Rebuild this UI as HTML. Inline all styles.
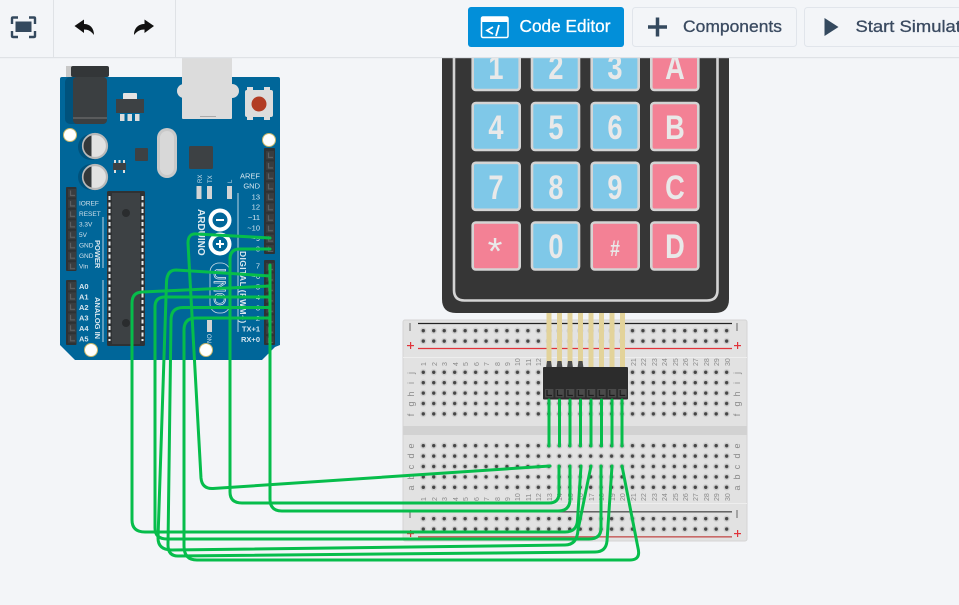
<!DOCTYPE html>
<html><head><meta charset="utf-8"><style>
html,body{margin:0;padding:0;background:#f3f5f8;width:959px;height:605px;overflow:hidden}
svg{display:block;font-family:"Liberation Sans",sans-serif}
.w{fill:none;stroke:#06bd4b;stroke-width:3;stroke-linecap:round;stroke-linejoin:round}
.k{stroke:#d4d4d4;stroke-width:2.6}
.kt{font-size:34px;font-weight:bold;fill:#e9e9e9;text-anchor:middle}
.bn{font-size:7px;fill:#8a8a8a}
.bl{font-size:9px;fill:#8a8a8a}
.ar{font-size:7.5px;fill:#d6e6ef;text-anchor:end}
.al{font-size:6.5px;fill:#cfe0ea}
.aa{font-size:7.5px;fill:#d6e6ef;font-weight:bold}
.ab{fill:#dbe8ef;font-weight:bold}
.tb{font-size:17px;fill:#3a4a60;stroke:#3a4a60;stroke-width:.3}
</style></head><body>
<svg width="959" height="605" viewBox="0 0 959 605" xmlns="http://www.w3.org/2000/svg">
<defs>
<pattern id="h" patternUnits="userSpaceOnUse" width="10.46" height="10.4">
<circle cx="5.23" cy="5.2" r="3.2" fill="#cfcfcf"/><circle cx="5.23" cy="5.2" r="1.7" fill="#454545"/>
</pattern>
<pattern id="p" patternUnits="userSpaceOnUse" width="10.46" height="10.46">
<rect x="1" y="1" width="8.4" height="8.4" fill="#3a3d3f"/><path d="M3.5 2.500V7.500H8" stroke="#5c5f61" stroke-width="1.200" fill="none"/>
</pattern>
<pattern id="ph" patternUnits="userSpaceOnUse" width="10.46" height="10.46">
<rect x="1" y="1" width="8.4" height="8.4" fill="#4a4a4a"/><path d="M3 2V7.500H8" stroke="#1c1c1c" stroke-width="1.200" fill="none"/>
</pattern>
</defs>
<rect width="959" height="605" fill="#f3f5f8"/>

<!-- Arduino -->
<path d="M62 77H278Q280 77 280 79V345L275 347 262 360H75L61 346 60 345V79Q60 77 62 77Z" fill="#006699"/>
<rect x="65" y="77" width="42" height="47" rx="5" fill="#00527c"/>
<rect x="66" y="66" width="6" height="11" fill="#c8c8c8"/>
<rect x="71" y="66" width="38" height="11" rx="2" fill="#333638"/>
<rect x="73" y="77" width="34" height="47" rx="4" fill="#3b3f41"/>
<rect x="73" y="117.500" width="34" height="1" fill="#777"/>
<rect x="123" y="93" width="14" height="7" rx="1" fill="#e4e4e4"/>
<rect x="116" y="99" width="28" height="14" fill="#3d4144"/>
<rect x="120" y="114" width="4.500" height="7" fill="#ddd"/><rect x="127.500" y="114" width="4.500" height="7" fill="#ddd"/><rect x="135" y="114" width="4.500" height="7" fill="#ddd"/>
<circle cx="184" cy="91" r="7" fill="#dcdcdc"/><circle cx="232" cy="91" r="7" fill="#dcdcdc"/>
<rect x="182" y="50" width="50" height="69" rx="1" fill="#dcdcdc"/>
<rect x="200" y="116" width="16" height="1" fill="#aaa"/>
<rect x="247" y="87" width="6" height="5" fill="#ddd"/><rect x="264" y="87" width="6" height="5" fill="#ddd"/><rect x="247" y="116" width="6" height="4" fill="#ddd"/><rect x="264" y="116" width="6" height="4" fill="#ddd"/>
<rect x="245" y="90" width="28" height="27" rx="2" fill="#dcdcdc"/>
<circle cx="259" cy="104" r="7.500" fill="#b23c24"/>
<circle cx="70" cy="135" r="6.500" fill="#fff" stroke="#c9b76a" stroke-width="1"/>
<circle cx="269" cy="140" r="6.500" fill="#fff" stroke="#c9b76a" stroke-width="1"/>
<circle cx="91" cy="350" r="6.500" fill="#fff" stroke="#c9b76a" stroke-width="1"/>
<circle cx="206" cy="350" r="6.500" fill="#fff" stroke="#c9b76a" stroke-width="1"/>
<circle cx="91" cy="147" r="13" fill="#00527c"/><circle cx="91" cy="177" r="13" fill="#00527c"/>
<circle cx="95" cy="146" r="12" fill="#e2e2e2" stroke="#b9b9b9" stroke-width="2.200"/><path d="M91.500 135.500A10.900 10.900 0 0 0 91.500 156.500Z" fill="#34383a"/>
<circle cx="95" cy="177" r="12" fill="#e2e2e2" stroke="#b9b9b9" stroke-width="2.200"/><path d="M91.500 166.500A10.900 10.900 0 0 0 91.500 187.500Z" fill="#34383a"/>
<rect x="135" y="148" width="13" height="13" rx="1" fill="#3d4144"/>
<rect x="113" y="163" width="13" height="7" fill="#3d4144"/>
<rect x="114" y="160" width="2" height="3" fill="#ddd"/><rect x="118.500" y="160" width="2" height="3" fill="#ddd"/><rect x="123" y="160" width="2" height="3" fill="#ddd"/><rect x="114" y="170" width="2" height="3" fill="#ddd"/><rect x="123" y="170" width="2" height="3" fill="#ddd"/>
<rect x="157" y="128" width="20" height="50" rx="10" fill="#c9c9c9"/><rect x="160" y="131" width="14" height="44" rx="7" fill="#d8d8d8"/>
<rect x="189" y="146" width="24" height="23" rx="1.500" fill="#3d4144"/>
<rect x="196.500" y="186" width="5" height="13" fill="#d4d4d4"/><rect x="207" y="186" width="5" height="13" fill="#d4d4d4"/><rect x="227" y="186" width="5" height="13" fill="#d4d4d4"/>
<text class="al" transform="translate(202,183) rotate(-90)" style="font-size:6px">RX</text>
<text class="al" transform="translate(212,183) rotate(-90)" style="font-size:6px">TX</text>
<text class="al" transform="translate(232,183) rotate(-90)" style="font-size:6px">L</text>

<rect x="264" y="148" width="11" height="106" rx="1" fill="#2f3234"/>
<rect x="264" y="260" width="11" height="85" rx="1" fill="#2f3234"/>
<g transform="translate(265,150)"><rect width="9" height="102" fill="url(#p)"/></g>
<g transform="translate(265,262)"><rect width="9" height="81" fill="url(#p)"/></g>
<rect x="66" y="187" width="10.500" height="84" rx="1" fill="#2f3234"/>
<rect x="66" y="280" width="10.500" height="65" rx="1" fill="#2f3234"/>
<g transform="translate(67,188)"><rect width="9" height="82" fill="url(#p)"/></g>
<g transform="translate(67,281)"><rect width="9" height="63" fill="url(#p)"/></g>

<rect x="107" y="191" width="38" height="155" rx="1.500" fill="#2f3234"/>
<rect x="112" y="193" width="28" height="151" fill="#3d4144"/>
<path d="M109.500 196V341" stroke="#ececec" stroke-width="2" stroke-dasharray="4 2.500"/>
<path d="M142.500 196V341" stroke="#ececec" stroke-width="2" stroke-dasharray="4 2.500"/>
<circle cx="126" cy="213" r="4" fill="#2a2c2e"/><circle cx="126" cy="323" r="4" fill="#2a2c2e"/>

<text class="ar" x="260" y="178.500">AREF</text><text class="ar" x="260" y="188.500">GND</text>
<text class="ar" x="260" y="199.500">13</text><text class="ar" x="260" y="209.500">12</text>
<text class="ar" x="260" y="220">~11</text><text class="ar" x="260" y="230.500">~10</text>
<text class="ar" x="260" y="241">~9</text><text class="ar" x="260" y="251.500">~8</text>
<text class="ar" x="260" y="268.500">7</text><text class="ar" x="260" y="279">~6</text>
<text class="ar" x="260" y="289.500">~5</text><text class="ar" x="260" y="300">4</text>
<text class="ar" x="260" y="310.500">~3</text><text class="ar" x="260" y="321">2</text>
<text class="ar" x="260" y="331.500" font-weight="bold">TX+1</text><text class="ar" x="260" y="342" font-weight="bold">RX+0</text>
<text class="al" x="79" y="205.500">IOREF</text><text class="al" x="79" y="216">RESET</text>
<text class="al" x="79" y="226.500">3.3V</text><text class="al" x="79" y="237">5V</text>
<text class="al" x="79" y="247.500">GND</text><text class="al" x="79" y="258">GND</text><text class="al" x="79" y="268.500">Vin</text>
<text class="aa" x="79" y="289">A0</text><text class="aa" x="79" y="299.500">A1</text><text class="aa" x="79" y="310">A2</text>
<text class="aa" x="79" y="320.500">A3</text><text class="aa" x="79" y="331">A4</text><text class="aa" x="79" y="341.500">A5</text>
<text class="ab" transform="translate(95,240) rotate(90)" font-size="7.500">POWER</text>
<text class="ab" transform="translate(95,297) rotate(90)" font-size="7.500">ANALOG IN</text>
<text class="ab" transform="translate(198,209) rotate(90)" font-size="10">ARDUINO</text>
<text class="ab" transform="translate(240,251) rotate(90)" font-size="8.500" letter-spacing=".4">DIGITAL (PWM~)</text>
<path d="M238 193V332M103 217V268M103 280V342" stroke="#cfe0ea" stroke-width=".9" fill="none"/>
<circle cx="220" cy="220" r="9.500" fill="none" stroke="#fff" stroke-width="4"/>
<circle cx="220" cy="244" r="9.500" fill="none" stroke="#fff" stroke-width="4"/>
<rect x="216" y="219" width="8" height="2" fill="#fff"/>
<rect x="216" y="243" width="8" height="2" fill="#fff"/><rect x="219" y="240" width="2" height="8" fill="#fff"/>
<rect x="210" y="263" width="20" height="50" rx="9" fill="none" stroke="#cfe0ea" stroke-width=".8"/>
<text transform="translate(214,268) rotate(90)" font-size="17" fill="none" stroke="#e4eef3" stroke-width=".7">UNO</text>
<rect x="207" y="320" width="5" height="12" fill="#d4d4d4"/>
<text class="al" transform="translate(207,334) rotate(90)" style="font-size:6px">ON</text>

<!-- Breadboard -->
<rect x="403" y="320" width="344" height="221" rx="2" fill="#e2e2e2" stroke="#d4d4d4" stroke-width="1"/>
<rect x="403" y="426" width="344" height="9" fill="#d2d2d2"/>
<path d="M403 357.500H747M403 503.500H747" stroke="#eee" stroke-width="1"/>
<path d="M418 323.500H732" stroke="#222" stroke-width="1.300"/>
<path d="M418 348.500H732" stroke="#e0333a" stroke-width="1.300"/>
<path d="M418 511.800H732" stroke="#555" stroke-width="1.400"/>
<path d="M418 536.800H732" stroke="#c96a68" stroke-width="1.600"/>
<g transform="translate(418.070,325.500)"><rect width="314" height="20.800" fill="url(#h)"/></g>
<g transform="translate(418.070,367.100)"><rect width="314" height="52" fill="url(#h)"/></g>
<g transform="translate(418.070,440.500)"><rect width="314" height="52" fill="url(#h)"/></g>
<g transform="translate(418.070,513.500)"><rect width="314" height="20.800" fill="url(#h)"/></g>
<g fill="#666"><rect x="409.500" y="323" width="1" height="8"/><rect x="736.500" y="323" width="1" height="8"/><rect x="409.500" y="510" width="1" height="8"/><rect x="736.500" y="510" width="1" height="8"/></g>
<g fill="#e0333a"><rect x="407" y="345" width="7" height="1.200"/><rect x="410" y="342" width="1.200" height="7"/><rect x="734" y="345" width="7" height="1.200"/><rect x="737" y="342" width="1.200" height="7"/><rect x="407" y="533" width="7" height="1.200"/><rect x="410" y="530" width="1.200" height="7"/><rect x="734" y="533" width="7" height="1.200"/><rect x="737" y="530" width="1.200" height="7"/></g>
<g class="bn">
<text class="bn" transform="translate(426,366) rotate(-90)">1</text><text class="bn" transform="translate(437,366) rotate(-90)">2</text><text class="bn" transform="translate(447,366) rotate(-90)">3</text><text class="bn" transform="translate(458,366) rotate(-90)">4</text><text class="bn" transform="translate(468,366) rotate(-90)">5</text><text class="bn" transform="translate(479,366) rotate(-90)">6</text><text class="bn" transform="translate(489,366) rotate(-90)">7</text><text class="bn" transform="translate(500,366) rotate(-90)">8</text><text class="bn" transform="translate(510,366) rotate(-90)">9</text><text class="bn" transform="translate(520,366) rotate(-90)">10</text><text class="bn" transform="translate(531,366) rotate(-90)">11</text><text class="bn" transform="translate(541,366) rotate(-90)">12</text>
<text class="bn" transform="translate(636,366) rotate(-90)">21</text><text class="bn" transform="translate(646,366) rotate(-90)">22</text><text class="bn" transform="translate(657,366) rotate(-90)">23</text><text class="bn" transform="translate(667,366) rotate(-90)">24</text><text class="bn" transform="translate(678,366) rotate(-90)">25</text><text class="bn" transform="translate(688,366) rotate(-90)">26</text><text class="bn" transform="translate(698,366) rotate(-90)">27</text><text class="bn" transform="translate(709,366) rotate(-90)">28</text><text class="bn" transform="translate(719,366) rotate(-90)">29</text><text class="bn" transform="translate(730,366) rotate(-90)">30</text>
<text class="bn" transform="translate(426,501) rotate(-90)">1</text><text class="bn" transform="translate(437,501) rotate(-90)">2</text><text class="bn" transform="translate(447,501) rotate(-90)">3</text><text class="bn" transform="translate(458,501) rotate(-90)">4</text><text class="bn" transform="translate(468,501) rotate(-90)">5</text><text class="bn" transform="translate(479,501) rotate(-90)">6</text><text class="bn" transform="translate(489,501) rotate(-90)">7</text><text class="bn" transform="translate(500,501) rotate(-90)">8</text><text class="bn" transform="translate(510,501) rotate(-90)">9</text><text class="bn" transform="translate(520,501) rotate(-90)">10</text><text class="bn" transform="translate(531,501) rotate(-90)">11</text><text class="bn" transform="translate(541,501) rotate(-90)">12</text><text class="bn" transform="translate(552,501) rotate(-90)">13</text><text class="bn" transform="translate(562,501) rotate(-90)">14</text><text class="bn" transform="translate(573,501) rotate(-90)">15</text><text class="bn" transform="translate(583,501) rotate(-90)">16</text><text class="bn" transform="translate(594,501) rotate(-90)">17</text><text class="bn" transform="translate(604,501) rotate(-90)">18</text><text class="bn" transform="translate(615,501) rotate(-90)">19</text><text class="bn" transform="translate(625,501) rotate(-90)">20</text><text class="bn" transform="translate(636,501) rotate(-90)">21</text><text class="bn" transform="translate(646,501) rotate(-90)">22</text><text class="bn" transform="translate(657,501) rotate(-90)">23</text><text class="bn" transform="translate(667,501) rotate(-90)">24</text><text class="bn" transform="translate(678,501) rotate(-90)">25</text><text class="bn" transform="translate(688,501) rotate(-90)">26</text><text class="bn" transform="translate(698,501) rotate(-90)">27</text><text class="bn" transform="translate(709,501) rotate(-90)">28</text><text class="bn" transform="translate(719,501) rotate(-90)">29</text><text class="bn" transform="translate(730,501) rotate(-90)">30</text>
</g>
<text class="bl" text-anchor="middle" transform="translate(414,373) rotate(-90)">j</text><text class="bl" text-anchor="middle" transform="translate(414,383) rotate(-90)">i</text><text class="bl" text-anchor="middle" transform="translate(414,394) rotate(-90)">h</text><text class="bl" text-anchor="middle" transform="translate(414,404) rotate(-90)">g</text><text class="bl" text-anchor="middle" transform="translate(414,415) rotate(-90)">f</text>
<text class="bl" text-anchor="middle" transform="translate(414,446) rotate(-90)">e</text><text class="bl" text-anchor="middle" transform="translate(414,456) rotate(-90)">d</text><text class="bl" text-anchor="middle" transform="translate(414,467) rotate(-90)">c</text><text class="bl" text-anchor="middle" transform="translate(414,477) rotate(-90)">b</text><text class="bl" text-anchor="middle" transform="translate(414,488) rotate(-90)">a</text>
<text class="bl" text-anchor="middle" transform="translate(740,373) rotate(-90)">j</text><text class="bl" text-anchor="middle" transform="translate(740,383) rotate(-90)">i</text><text class="bl" text-anchor="middle" transform="translate(740,394) rotate(-90)">h</text><text class="bl" text-anchor="middle" transform="translate(740,404) rotate(-90)">g</text><text class="bl" text-anchor="middle" transform="translate(740,415) rotate(-90)">f</text>
<text class="bl" text-anchor="middle" transform="translate(740,446) rotate(-90)">e</text><text class="bl" text-anchor="middle" transform="translate(740,456) rotate(-90)">d</text><text class="bl" text-anchor="middle" transform="translate(740,467) rotate(-90)">c</text><text class="bl" text-anchor="middle" transform="translate(740,477) rotate(-90)">b</text><text class="bl" text-anchor="middle" transform="translate(740,488) rotate(-90)">a</text>

<!-- Keypad -->
<path d="M442 40H729V299Q729 313 715 313H456Q442 313 442 299Z" fill="#363636"/>
<path d="M454 40V290Q454 300.500 464.500 300.500H707Q717.500 300.500 717.500 290V40" fill="none" stroke="#d4d4d4" stroke-width="2.600"/>
<g>
<rect class="k" x="472.700" y="43" width="47" height="47" rx="3" fill="#7fc8e8"/><rect class="k" x="532" y="43" width="47" height="47" rx="3" fill="#7fc8e8"/><rect class="k" x="591.700" y="43" width="47" height="47" rx="3" fill="#7fc8e8"/><rect class="k" x="651.300" y="43" width="47" height="47" rx="3" fill="#f38195"/>
<rect class="k" x="472.700" y="103" width="47" height="47" rx="3" fill="#7fc8e8"/><rect class="k" x="532" y="103" width="47" height="47" rx="3" fill="#7fc8e8"/><rect class="k" x="591.700" y="103" width="47" height="47" rx="3" fill="#7fc8e8"/><rect class="k" x="651.300" y="103" width="47" height="47" rx="3" fill="#f38195"/>
<rect class="k" x="472.700" y="162.800" width="47" height="47" rx="3" fill="#7fc8e8"/><rect class="k" x="532" y="162.800" width="47" height="47" rx="3" fill="#7fc8e8"/><rect class="k" x="591.700" y="162.800" width="47" height="47" rx="3" fill="#7fc8e8"/><rect class="k" x="651.300" y="162.800" width="47" height="47" rx="3" fill="#f38195"/>
<rect class="k" x="472.700" y="222.500" width="47" height="47" rx="3" fill="#f38195"/><rect class="k" x="532" y="222.500" width="47" height="47" rx="3" fill="#7fc8e8"/><rect class="k" x="591.700" y="222.500" width="47" height="47" rx="3" fill="#f38195"/><rect class="k" x="651.300" y="222.500" width="47" height="47" rx="3" fill="#f38195"/>
</g>
<g>
<text class="kt" transform="translate(496,79) scale(.8,1)">1</text><text class="kt" transform="translate(556,79) scale(.8,1)">2</text><text class="kt" transform="translate(615,79) scale(.8,1)">3</text><text class="kt" transform="translate(675,79) scale(.8,1)">A</text>
<text class="kt" transform="translate(496,139) scale(.8,1)">4</text><text class="kt" transform="translate(556,139) scale(.8,1)">5</text><text class="kt" transform="translate(615,139) scale(.8,1)">6</text><text class="kt" transform="translate(675,139) scale(.8,1)">B</text>
<text class="kt" transform="translate(496,199) scale(.8,1)">7</text><text class="kt" transform="translate(556,199) scale(.8,1)">8</text><text class="kt" transform="translate(615,199) scale(.8,1)">9</text><text class="kt" transform="translate(675,199) scale(.8,1)">C</text>
<text class="kt" transform="translate(495,264) scale(1,1)" style="font-weight:normal;font-size:38px">*</text><text class="kt" transform="translate(556,258) scale(.8,1)">0</text><text class="kt" transform="translate(615,256) scale(.8,1)" style="font-size:22px">#</text><text class="kt" transform="translate(675,258) scale(.8,1)">D</text>
</g>

<!-- Header + ribbon -->
<g fill="#e3d39a"><rect x="546.500" y="313" width="5" height="55"/><rect x="557" y="313" width="5" height="55"/><rect x="567.500" y="313" width="5" height="55"/><rect x="578" y="313" width="5" height="55"/><rect x="588.500" y="313" width="5" height="55"/><rect x="599" y="313" width="5" height="55"/><rect x="609.500" y="313" width="5" height="55"/><rect x="620" y="313" width="5" height="55"/></g>
<g fill="#4a4a4a"><path d="M546 368L547 361H551L552 368Z"/><path d="M556.500 368L557.500 361H561.500L562.500 368Z"/><path d="M567 368L568 361H572L573 368Z"/><path d="M577.500 368L578.500 361H582.500L583.500 368Z"/></g>
<rect x="543" y="367" width="85" height="32.500" rx="1" fill="#2c2c2c"/>
<g transform="translate(544,388)"><rect width="83.700" height="10.460" fill="url(#ph)"/></g>

<!-- Wires -->
<g class="w">
<path d="M549 400V446M559.500 400V446M570 400V446M580.500 400V446M591 400V446M601.500 400V446M612 400V446M622 400V446"/>
<path d="M270 238L197 234Q188 233 188 243L201 478Q202 489 213 488.500L550 466"/>
<path d="M270 249H240Q230 249 230 259V492Q230 503 242 503H549Q559 503 559 493V466"/>
<path d="M270 265V499Q270 511 282 511H558Q570 511 570 499V466"/>
<path d="M270 286L142 292Q132 292.500 132 303V520Q132 532 145 532H565Q577 532 577.500 520L581 466"/>
<path d="M270 297H165Q155 297 155 307V528Q155 539 167 539H589Q601 539 601 528V466"/>
<path d="M270 276L176 270Q167 270 166.500 282L158 538Q158 550 172 550L565 545Q577 545 578 530L591 466"/>
<path d="M270 307.500H183Q171 307.500 171 320L168 545Q168 556 178 556L595 552Q606 552 607 541L612 466"/>
<path d="M270 318H196Q184 318 184 330V546Q184 560 197 560H630Q641 560 638 548L622 466"/>
</g>

<!-- Toolbar -->
<rect width="959" height="57" fill="#f3f5f8"/>
<rect y="57" width="959" height="1.200" fill="#dfe2e6"/>
<rect x="53" width="1" height="57" fill="#dfe2e6"/><rect x="175" width="1" height="57" fill="#dfe2e6"/>
<path d="M12 24V18.500Q12 17.500 13 17.500H18M29 17.500H34Q35 17.500 35 18.500V24M35 31V36Q35 37 34 37H29M18 37H13Q12 37 12 36V31" fill="none" stroke="#34495e" stroke-width="2.400"/>
<rect x="15.500" y="21.500" width="16" height="10.500" fill="#34495e"/>
<path d="M74.500 26L84 19.500V24C90 24 94 28 94 35C91 31 88 29.500 84 29.500V33Z" fill="#111"/>
<path d="M154 26L144.500 19.500V24C138.500 24 134 28 134 35C137 31 140.500 29.500 144.500 29.500V33Z" fill="#111"/>
<rect x="468" y="7" width="156" height="40" rx="3" fill="#028fd9"/>
<rect x="481.500" y="17" width="26.500" height="20.500" rx="1.500" fill="none" stroke="#fff" stroke-width="1.500"/>
<rect x="481.500" y="17" width="26.500" height="5" fill="#fff"/>
<path d="M493 27L487 30.500L493 34M499 25L496 36" fill="none" stroke="#fff" stroke-width="1.800"/>
<text x="519.500" y="32" font-size="17.500" fill="#fff" stroke="#fff" stroke-width=".3" textLength="91" lengthAdjust="spacingAndGlyphs">Code Editor</text>
<rect x="632.500" y="7.500" width="164" height="39" rx="3" fill="#f3f5f8" stroke="#e1e5eb"/>
<path d="M648 27H667M657.500 17.500V36.500" stroke="#34495e" stroke-width="3.500"/>
<text class="tb" x="683" y="32" textLength="99" lengthAdjust="spacingAndGlyphs">Components</text>
<rect x="804.500" y="7.500" width="170" height="39" rx="3" fill="#f3f5f8" stroke="#e1e5eb"/>
<path d="M824.500 18L838.500 27L824.500 36Z" fill="#34495e"/>
<text class="tb" x="855.500" y="32" textLength="130" lengthAdjust="spacingAndGlyphs">Start Simulation</text>
</svg>
</body></html>
